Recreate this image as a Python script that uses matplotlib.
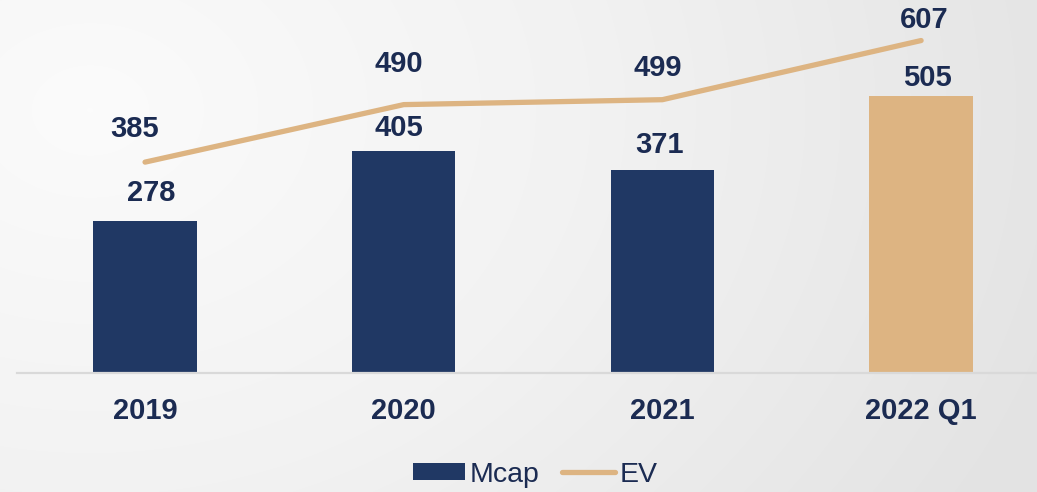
import numpy as np
import matplotlib
matplotlib.use("Agg")
import matplotlib.pyplot as plt
from matplotlib.patches import Patch
from matplotlib.lines import Line2D
from matplotlib.colors import LinearSegmentedColormap

plt.rcParams['font.family'] = ['Liberation Sans', 'DejaVu Sans']

# data
periods = ['2019', '2020', '2021', '2022 Q1']
mcap = [278, 405, 371, 505]
ev = [385, 490, 499, 607]

# label nudges (pixels) to mimic the hand-placed labels of the original
mcap_dx = [6, -5, -3, 6]
mcap_dy = [28, 23, 25, 18]
ev_dx = [-10, -5, -5, 3]
ev_dy = [33, 41, 32, 21]

NAVY = '#203864'
TEXT = '#1B2B52'
SAND = '#DDB482'

fig = plt.figure(figsize=(10.37, 4.92), dpi=100)

# soft radial background, light at top-left, grey towards right
bg = fig.add_axes([0, 0, 1, 1], zorder=-2)
yy, xx = np.mgrid[0:492, 0:1037]
dist = np.hypot(xx - 90, (yy - 110) * 1.3) / 1000.0
cmap = LinearSegmentedColormap.from_list('bg', ['#FBFBFB', '#F2F2F2', '#E4E4E4'])
bg.imshow(np.clip(dist, 0, 1), cmap=cmap, vmin=0, vmax=1, aspect='auto')
bg.axis('off')

ax = fig.add_axes([17 / 1037, 1 - 373 / 492, 1 - 17 / 1037, 373 / 492])
ax.patch.set_alpha(0)
x = np.arange(len(periods))
bar_colors = [NAVY, NAVY, NAVY, SAND]
ax.bar(x, mcap, width=0.4, color=bar_colors, zorder=2)
ax.plot(x, ev, color=SAND, lw=3.8, solid_capstyle='round', zorder=3)

px = 72 / fig.dpi
for xi, v, dx, dy in zip(x, mcap, mcap_dx, mcap_dy):
    ax.annotate(f'{v}', (xi, v), xytext=(dx * px, dy * px), textcoords='offset points',
                ha='center', va='center', fontsize=21, fontweight='bold', color=TEXT)
for xi, v, dx, dy in zip(x, ev, ev_dx, ev_dy):
    ax.annotate(f'{v}', (xi, v), xytext=(dx * px, dy * px), textcoords='offset points',
                ha='center', va='center', fontsize=21, fontweight='bold', color=TEXT)

ax.set_xlim(-0.495, 3.448)
ax.set_ylim(0, 681)
ax.set_xticks(x)
ax.set_xticklabels(periods, fontsize=21, fontweight='bold', color=TEXT)
ax.tick_params(axis='x', length=0, pad=17)
ax.set_yticks([])
for s in ['top', 'right', 'left']:
    ax.spines[s].set_visible(False)
ax.spines['bottom'].set_color('#D9D9D9')
ax.spines['bottom'].set_linewidth(1.6)

handles = [Patch(facecolor=NAVY, edgecolor='none', label='Mcap'),
           Line2D([], [], color=SAND, lw=3.8, solid_capstyle='round', label='EV')]
leg = fig.legend(handles=handles, loc='center', bbox_to_anchor=(0.516, 0.035), ncol=2,
                 frameon=False, fontsize=20.5, handlelength=1.85, handleheight=0.55,
                 handletextpad=0.15, columnspacing=0.8, borderpad=0.2)
for t in leg.get_texts():
    t.set_color(TEXT)

fig.savefig('out.png', dpi=100)
